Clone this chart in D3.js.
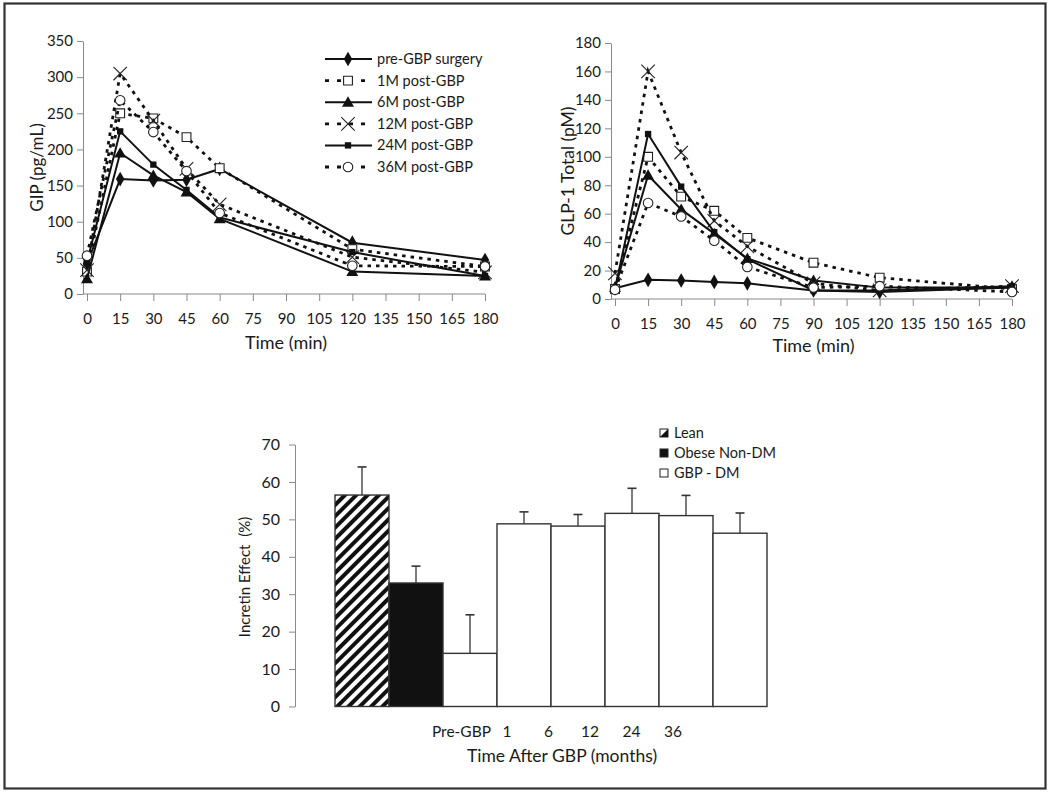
<!DOCTYPE html>
<html><head><meta charset="utf-8">
<script src="https://cdn.jsdelivr.net/npm/d3@7"></script>
<style>
body{margin:0;background:#fff}
svg{display:block}
text{font-family:Lato,"Open Sans",sans-serif;fill:#1a1a1a}
</style>
</head><body>
<svg id="c" width="1050" height="793"></svg>
<script>
// ---------- DATA ----------
const seriesNames = ["pre-GBP surgery","1M post-GBP","6M post-GBP","12M post-GBP","24M post-GBP","36M post-GBP"];

const gipTimes = [0,15,30,45,60,120,180];
const gipPre  = [42,159,157,158,173,71,47];
const gip1M   = [31,250,243,217,174,62,38];
const gip6M   = [21,195,164,141,104,31,25];
const gip12M  = [33,305,240,173,124,51,30];
const gip24M  = [44,225,179,144,106,58,25];
const gip36M  = [53,268,224,170,112,39,38];

const glpTimes = [0,15,30,45,60,90,120,180];
const glpPre  = [7.5,13.5,13,12,11,6,5,8];
const glp1M   = [7,100,72,62,43,25.5,15,7];
const glp6M   = [8,87,63,46,28.5,13,8,8];
const glp12M  = [18,160,103,55,37,11,6,9];
const glp24M  = [7,116,79,47,28,6,6,9];
const glp36M  = [6.5,67.5,58,41,22.5,8,9,5];

const timeTicks = [0,15,30,45,60,75,90,105,120,135,150,165,180];
const gipTicks = [0,50,100,150,200,250,300,350];
const glpTicks = [0,20,40,60,80,100,120,140,160,180];

const barCategories = ["Lean","Obese Non-DM","Pre-GBP","1","6","12","24","36"];
const barValues = [56.5,33.0,14.2,48.8,48.2,51.6,51.0,46.3];
const barErrors = [7.5,4.5,10.3,3.2,3.1,6.7,5.4,5.4];
const barTicks = [0,10,20,30,40,50,60,70];
const monthLabels = ["Pre-GBP","1","6","12","24","36"];
const barLegend = ["Lean","Obese Non-DM","GBP - DM"];

// ---------- STYLE ----------
const markerKinds = ["diamond","squareOpen","triangle","x","squareSmall","circleOpen"];
const dashedFlags = [false,true,false,true,false,true];
const axisColor = "#8a8a8a";
const FONT = "Lato,'Open Sans',sans-serif";

const svg = d3.select("#c");
svg.append("rect").attr("x",4.5).attr("y",3.5).attr("width",1041).attr("height",785)
  .attr("fill","none").attr("stroke","#333").attr("stroke-width",2.2);

function drawMarker(g, kind, x, y){
  if(kind==="diamond"){
    g.append("path").attr("d",d3.symbol(d3.symbolDiamond,62)()).attr("transform",`translate(${x},${y})`).attr("fill","#111");
  } else if(kind==="squareOpen"){
    g.append("path").attr("d",d3.symbol(d3.symbolSquare,78)()).attr("transform",`translate(${x},${y})`).attr("fill","#fff").attr("stroke","#222").attr("stroke-width",1.1);
  } else if(kind==="triangle"){
    g.append("path").attr("d",d3.symbol(d3.symbolTriangle,62)()).attr("transform",`translate(${x},${y+1})`).attr("fill","#111");
  } else if(kind==="x"){
    g.append("path").attr("d",d3.symbol(d3.symbolTimes||d3.symbolX,120)()).attr("transform",`translate(${x},${y})`).attr("fill","none").attr("stroke","#222").attr("stroke-width",1.1);
  } else if(kind==="squareSmall"){
    g.append("path").attr("d",d3.symbol(d3.symbolSquare,40)()).attr("transform",`translate(${x},${y})`).attr("fill","#111");
  } else if(kind==="circleOpen"){
    g.append("path").attr("d",d3.symbol(d3.symbolCircle,72)()).attr("transform",`translate(${x},${y})`).attr("fill","#fff").attr("stroke","#222").attr("stroke-width",1.1);
  }
}

function lineChart(opts){
  const {times, seriesList, yTicks, yMax, xRange, yRange, yAxisX, yTitle, yTitleX, yTitleSize, xTitleY} = opts;
  const g = svg.append("g");
  const x = d3.scaleLinear().domain([0,180]).range(xRange);
  const y = d3.scaleLinear().domain([0,yMax]).range(yRange);
  // y axis
  const ya = g.append("g").attr("transform",`translate(${yAxisX},0)`)
    .call(d3.axisLeft(y).tickValues(yTicks).tickSize(6).tickSizeOuter(0).tickPadding(4));
  ya.select(".domain").attr("stroke",axisColor);
  ya.selectAll(".tick line").attr("stroke",axisColor);
  ya.selectAll("text").attr("font-size",15).attr("fill","#1a1a1a").style("font-family",FONT);
  // x axis
  const xa = g.append("g").attr("transform",`translate(0,${y(0)})`)
    .call(d3.axisBottom(x).tickValues(timeTicks).tickSize(7).tickSizeOuter(0).tickPadding(12));
  xa.select(".domain").remove();
  xa.append("line").attr("x1",yAxisX).attr("x2",x(180)).attr("stroke",axisColor);
  xa.selectAll(".tick line").attr("stroke",axisColor);
  xa.selectAll("text").attr("font-size",15).attr("fill","#1a1a1a").style("font-family",FONT);
  // titles
  g.append("text").attr("transform",`translate(${yTitleX},${(yRange[0]+yRange[1])/2}) rotate(-90)`)
    .attr("text-anchor","middle").attr("font-size",yTitleSize).text(yTitle);
  g.append("text").attr("x",(xRange[0]+xRange[1])/2).attr("y",xTitleY).attr("text-anchor","middle")
    .attr("font-size",18).text("Time (min)");
  // series
  seriesList.forEach((vals,i)=>{
    const pts = times.map((t,j)=>[x(t),y(vals[j])]);
    const sg = g.append("g");
    sg.append("path").attr("d",d3.line()(pts)).attr("fill","none").attr("stroke","#111")
      .attr("stroke-width",dashedFlags[i]?2.8:2)
      .attr("stroke-dasharray",dashedFlags[i]?"3.5,5":null);
    pts.forEach(p=>drawMarker(sg,markerKinds[i],p[0],p[1]));
  });
  return g;
}

lineChart({times:gipTimes, seriesList:[gipPre,gip1M,gip6M,gip12M,gip24M,gip36M], yTicks:gipTicks, yMax:350,
  xRange:[87,485], yRange:[294,41], yAxisX:83, yTitle:"GIP (pg/mL)", yTitleX:43, yTitleSize:17, xTitleY:349});
lineChart({times:glpTimes, seriesList:[glpPre,glp1M,glp6M,glp12M,glp24M,glp36M], yTicks:glpTicks, yMax:180,
  xRange:[615,1012], yRange:[299,43], yAxisX:611, yTitle:"GLP-1 Total (pM)", yTitleX:574, yTitleSize:17.5, xTitleY:352});

// legend for line charts
const lg = svg.append("g");
const legY = d3.scalePoint().domain(seriesNames).range([59,167]);
seriesNames.forEach((name,i)=>{
  const yy = legY(name);
  lg.append("line").attr("x1",325).attr("x2",372).attr("y1",yy).attr("y2",yy).attr("stroke","#111")
    .attr("stroke-width",dashedFlags[i]?2.8:2).attr("stroke-dasharray",dashedFlags[i]?"4,8":null);
  drawMarker(lg,markerKinds[i],348,yy);
  lg.append("text").attr("x",377).attr("y",yy).attr("dy","0.35em").attr("font-size",14.5).text(name);
});

// ---------- BAR CHART ----------
const defs = svg.append("defs");
const pat = defs.append("pattern").attr("id","hatch").attr("patternUnits","userSpaceOnUse")
  .attr("width",8).attr("height",8).attr("patternTransform","rotate(45)");
pat.append("rect").attr("width",8).attr("height",8).attr("fill","#fff");
pat.append("rect").attr("width",4).attr("height",8).attr("fill","#111");

const bg = svg.append("g");
const bx = d3.scaleBand().domain(barCategories).range([335,767]).padding(0);
const by = d3.scaleLinear().domain([0,70]).range([706.5,444.5]);
const bya = bg.append("g").attr("transform","translate(295,0)")
  .call(d3.axisLeft(by).tickValues(barTicks).tickSize(6).tickSizeOuter(0).tickPadding(9));
bya.select(".domain").attr("stroke",axisColor);
bya.selectAll(".tick line").attr("stroke",axisColor);
bya.selectAll("text").attr("font-size",16).attr("fill","#1a1a1a").style("font-family",FONT);
bg.append("text").attr("transform",`translate(250,577) rotate(-90)`).attr("text-anchor","middle")
  .attr("font-size",15).attr("xml:space","preserve").text("Incretin Effect  (%)");

const fills = barCategories.map((c,i)=> i===0 ? "url(#hatch)" : (i===1 ? "#111" : "#fff"));
// error bars
barCategories.forEach((c,i)=>{
  const cx = bx(c)+bx.bandwidth()/2;
  bg.append("line").attr("x1",cx).attr("x2",cx).attr("y1",by(barValues[i])).attr("y2",by(barValues[i]+barErrors[i]))
    .attr("stroke","#333").attr("stroke-width",1.3);
  bg.append("line").attr("x1",cx-4.5).attr("x2",cx+4.5).attr("y1",by(barValues[i]+barErrors[i])).attr("y2",by(barValues[i]+barErrors[i]))
    .attr("stroke","#333").attr("stroke-width",1.6);
});
bg.selectAll("rect.bar").data(barCategories).enter().append("rect").attr("class","bar")
  .attr("x",d=>bx(d)).attr("width",bx.bandwidth())
  .attr("y",(d,i)=>by(barValues[i])).attr("height",(d,i)=>by(0)-by(barValues[i]))
  .attr("fill",(d,i)=>fills[i]).attr("stroke","#333").attr("stroke-width",1.4);

// month labels
const ml = d3.scalePoint().domain(monthLabels.slice(1)).range([507,673]);
bg.append("text").attr("x",491).attr("y",737).attr("text-anchor","end").attr("font-size",15.5).text(monthLabels[0]);
monthLabels.slice(1).forEach(m=>{
  bg.append("text").attr("x",ml(m)).attr("y",737).attr("text-anchor","middle").attr("font-size",15.5).text(m);
});
bg.append("text").attr("x",562).attr("y",762).attr("text-anchor","middle").attr("font-size",17.5).text("Time After GBP (months)");

// bar legend
const bl = d3.scalePoint().domain(barLegend).range([433,473]);
barLegend.forEach((name,i)=>{
  const yy = bl(name);
  bg.append("rect").attr("x",660).attr("y",yy-4).attr("width",8).attr("height",8)
    .attr("fill",i===1?"#111":"#fff").attr("stroke","#222").attr("stroke-width",1);
  if(i===0){
    bg.append("path").attr("d",d3.line()([[668,yy-4],[668,yy+4],[660,yy+4]])+"Z").attr("fill","#111");
  }
  bg.append("text").attr("x",674).attr("y",yy).attr("dy","0.35em").attr("font-size",14.5).text(name);
});
</script>
</body></html>
